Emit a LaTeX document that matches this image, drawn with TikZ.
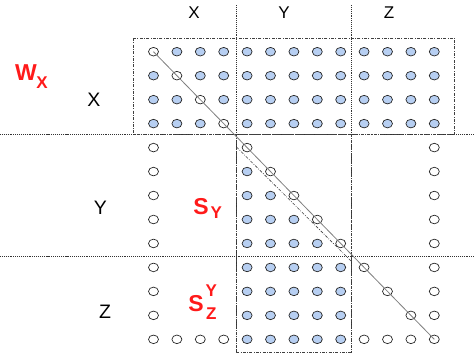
\documentclass[tikz,border=0pt]{standalone}
\usepackage{fontspec}
\setmainfont{Liberation Sans}
\usetikzlibrary{shapes.geometric}
\definecolor{dotblue}{HTML}{B7CFF2}
\definecolor{diaggray}{HTML}{7F7F7F}
\definecolor{lblred}{HTML}{FF1A1A}
\begin{document}
\begin{tikzpicture}[x=1pt,y=-1pt,
  dotbase/.style={ellipse,draw=black!85,line width=0.7pt,minimum width=10pt,minimum height=8.6pt,inner sep=0pt},
  whitedot/.style={dotbase},
  bluedot/.style={dotbase,fill=dotblue},
  sepline/.style={draw=black!80,line width=0.7pt,dash pattern=on 1pt off 0.9pt},
  boxline/.style={draw=black!75,line width=0.6pt,dash pattern=on 3pt off 1.4pt on 0.8pt off 1.4pt},
  diagline/.style={draw=diaggray,line width=0.8pt},
  axlabel/.style={inner sep=0pt,font=\fontsize{17}{17}\selectfont},
  sidelabel/.style={inner sep=0pt,font=\fontsize{19.5}{19.5}\selectfont},
  redlabel/.style={inner sep=0pt,text=lblred,font=\bfseries\fontsize{23}{23}\selectfont},
  sublabel/.style={inner sep=0pt,text=lblred,font=\bfseries\fontsize{17}{17}\selectfont}]
\useasboundingbox (0,0) rectangle (475,356);
% separators
\coordinate (h1l) at (0,134); \coordinate (h1r) at (475,134);
\coordinate (h2l) at (0,256); \coordinate (h2r) at (475,256);
\coordinate (v1t) at (236.5,5); \coordinate (v1b) at (236.5,352);
\coordinate (v2t) at (351,5); \coordinate (v2b) at (351,352);
\draw[sepline] (h1l) -- (h1r);
\draw[sepline] (h2l) -- (h2r);
\draw[sepline] (v1t) -- (v1b);
\draw[sepline] (v2t) -- (v2b);
% boxes
\coordinate (bx1) at (133.5,38); \coordinate (bx2) at (454.5,134);
\draw[boxline] (bx1) rectangle (bx2);
\coordinate (by1) at (236.5,134); \coordinate (by2) at (351,352);
\draw[boxline] (by1) rectangle (by2);
\coordinate (tr1) at (236.5,147); \coordinate (tr2) at (351,261);
\draw[boxline] (tr1) -- (tr2);
% dots
\foreach \r in {0,...,12}{
  \foreach \c in {0,...,12}{
    \pgfmathtruncatemacro\t{\r<4 ? (\c==\r ? 1 : 2) :
      (\r<9 ? ((\c==0 || \c==12 || \c==\r) ? 1 : ((\c>3 && \c<\r) ? 2 : 0)) :
      (\r<12 ? ((\c==0 || \c==12 || \c==\r) ? 1 : ((\c>3 && \c<9) ? 2 : 0)) :
      ((\c<4 || \c>8) ? 1 : 2)))}
    \ifnum\t=1
      \node[whitedot] (c-\r-\c) at ({153.5+23.4*\c},{51.7+23.97*\r}) {};
    \fi
    \ifnum\t=2
      \node[bluedot] (c-\r-\c) at ({153.5+23.4*\c},{51.7+23.97*\r}) {};
    \fi
  }
}
\draw[diagline] (c-0-0.center) -- (c-12-12.center);
% axis labels
\node[axlabel] (tX) at (194,12.2) {X};
\node[axlabel] (tY) at (284,12.2) {Y};
\node[axlabel] (tZ) at (389,12.2) {Z};
\node[sidelabel] (lX) at (94,100) {X};
\node[sidelabel] (lY) at (100.5,207.5) {Y};
\node[sidelabel] (lZ) at (105,311.5) {Z};
% red labels
\node[redlabel] (wW) at (26,73) {W};
\node[sublabel] (wX) at (42,82.5) {X};
\node[redlabel] (sS1) at (201,206.5) {S};
\node[sublabel] (sY1) at (216.2,213) {Y};
\node[redlabel] (sS2) at (196,304) {S};
\node[sublabel] (sY2) at (211.2,291) {Y};
\node[sublabel] (sZ2) at (211.2,314) {Z};
\end{tikzpicture}
\end{document}
